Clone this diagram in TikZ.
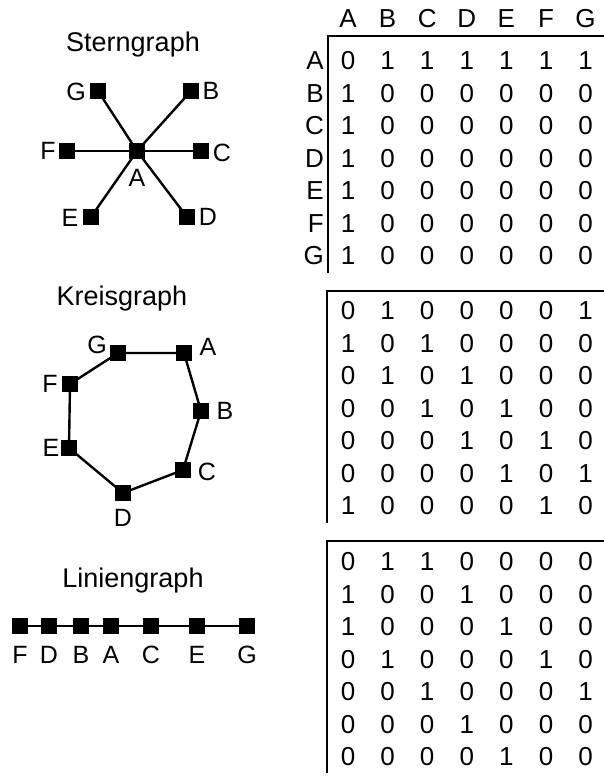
\documentclass[tikz,border=0pt]{standalone}
\usepackage{fontspec}
\setmainfont{Liberation Sans}
\begin{document}
\begin{tikzpicture}[x=1pt,y=-1pt,
  vertex/.style={fill=black, minimum size=16pt, inner sep=0pt, outer sep=0pt},
  edge/.style={line width=2.4pt},
  lbl/.style={font=\fontsize{25}{25}\selectfont, inner sep=0pt},
  title/.style={font=\fontsize{27}{27}\selectfont, inner sep=0pt, anchor=base},
  cell/.style={font=\fontsize{26}{26}\selectfont, inner sep=0pt},
  rule/.style={line width=2.6pt}]
\useasboundingbox (0,0) rectangle (604,778);

% ---------- Sterngraph ----------
\node[title] (t1) at (133,52) {Sterngraph};
\node[vertex] (sA) at (137,151) {};
\node[vertex] (sB) at (191,91) {};
\node[vertex] (sC) at (201,151) {};
\node[vertex] (sD) at (187,217) {};
\node[vertex] (sE) at (91,217) {};
\node[vertex] (sF) at (67,151) {};
\node[vertex] (sG) at (98,91) {};
\foreach \n in {B,C,D,E,F,G} \draw[edge] (sA.center) -- (s\n.center);
\node[lbl] (lsA) at (137,178) {A};
\node[lbl] (lsB) at (211,91) {B};
\node[lbl] (lsC) at (222,153) {C};
\node[lbl] (lsD) at (208,217) {D};
\node[lbl] (lsE) at (70,218) {E};
\node[lbl] (lsF) at (48,151) {F};
\node[lbl] (lsG) at (76,92) {G};

% ---------- Kreisgraph ----------
\node[title] (t2) at (122,305) {Kreisgraph};
\node[vertex] (kA) at (184,353) {};
\node[vertex] (kB) at (201,411) {};
\node[vertex] (kC) at (183,470) {};
\node[vertex] (kD) at (123,493) {};
\node[vertex] (kE) at (69,448) {};
\node[vertex] (kF) at (70,384) {};
\node[vertex] (kG) at (118,353) {};
\draw[edge] (kA.center) -- (kB.center) -- (kC.center) -- (kD.center)
  -- (kE.center) -- (kF.center) -- (kG.center) -- cycle;
\node[lbl] (lkA) at (208,347) {A};
\node[lbl] (lkB) at (225,411) {B};
\node[lbl] (lkC) at (207,472) {C};
\node[lbl] (lkD) at (123,518) {D};
\node[lbl] (lkE) at (51,448) {E};
\node[lbl] (lkF) at (50,384) {F};
\node[lbl] (lkG) at (97,345) {G};

% ---------- Liniengraph ----------
\node[title] (t3) at (133,587) {Liniengraph};
\foreach \n/\x in {F/20,D/49,B/81,A/111,C/151,E/197,G/247} {
  \node[vertex] (l\n) at (\x,626) {};
  \node[lbl] (ll\n) at (\x,655) {\n};
}
\draw[edge] (lF) -- (lD) -- (lB) -- (lA) -- (lC) -- (lE) -- (lG);

% ---------- Adjazenzmatrizen ----------
\foreach \h [count=\c] in {A,B,C,D,E,F,G}
  \node[cell] (h\c) at ({348+39.6*(\c-1)},19) {\h};
\foreach \h [count=\r] in {A,B,C,D,E,F,G}
  \node[cell, anchor=east] (v\r) at (324,{61+32.5*(\r-1)}) {\h};

\draw[rule] (328,273) -- (328,36) -- (604,36);
\draw[rule] (327,523) -- (327,291) -- (604,291);
\draw[rule] (327,773) -- (327,541) -- (604,541);

\foreach \row [count=\r] in {{0,1,1,1,1,1,1},{1,0,0,0,0,0,0},{1,0,0,0,0,0,0},
    {1,0,0,0,0,0,0},{1,0,0,0,0,0,0},{1,0,0,0,0,0,0},{1,0,0,0,0,0,0}}
  \foreach \v [count=\c] in \row
    \node[cell] (s-\r-\c) at ({348+39.6*(\c-1)},{61+32.5*(\r-1)}) {\v};

\foreach \row [count=\r] in {{0,1,0,0,0,0,1},{1,0,1,0,0,0,0},{0,1,0,1,0,0,0},
    {0,0,1,0,1,0,0},{0,0,0,1,0,1,0},{0,0,0,0,1,0,1},{1,0,0,0,0,1,0}}
  \foreach \v [count=\c] in \row
    \node[cell] (k-\r-\c) at ({348+39.6*(\c-1)},{311+32.5*(\r-1)}) {\v};

\foreach \row [count=\r] in {{0,1,1,0,0,0,0},{1,0,0,1,0,0,0},{1,0,0,0,1,0,0},
    {0,1,0,0,0,1,0},{0,0,1,0,0,0,1},{0,0,0,1,0,0,0},{0,0,0,0,1,0,0}}
  \foreach \v [count=\c] in \row
    \node[cell] (l-\r-\c) at ({348+39.6*(\c-1)},{562+32.5*(\r-1)}) {\v};
\end{tikzpicture}
\end{document}
